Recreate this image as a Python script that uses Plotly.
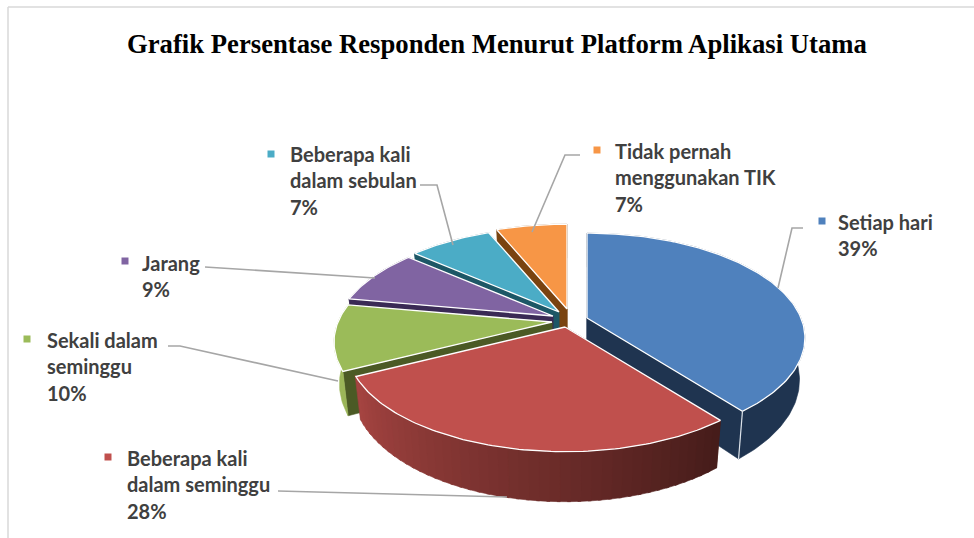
import math
import plotly.graph_objects as go

# ---- data ----
categories = ["Setiap hari", "Beberapa kali dalam seminggu", "Sekali dalam seminggu",
              "Jarang", "Beberapa kali dalam sebulan", "Tidak pernah menggunakan TIK"]
percent_labels = [39, 28, 10, 9, 7, 7]
# Sweep each wedge occupies on the drawn (tilted) pie, in percent of a turn
drawn_sweep = [39.4, 28.2, 10.2, 8.5, 7.4, 6.3]
label_lines = [["Setiap hari"], ["Beberapa kali", "dalam seminggu"], ["Sekali dalam", "seminggu"],
               ["Jarang"], ["Beberapa kali", "dalam sebulan"], ["Tidak pernah", "menggunakan TIK"]]
title = "Grafik Persentase Responden Menurut Platform Aplikasi Utama"

# ---- styles and layout ----
top_colors = ["#4F81BD", "#C0504D", "#9BBB59", "#8064A2", "#4BACC6", "#F79646"]
cut_colors = ["#1F3450", "#4A1C1A", "#4B5A25", "#3A2A55", "#1D5766", "#7A4310"]
rim_colors = ["#1F3450", None, "#9BB658", "#3A2A55", "#1D5766", "#7A4310"]
apex = [(587, 318), (565, 327), (552, 322), (553, 316), (559, 312), (567, 309)]
label_x = [838, 127, 47, 142, 290, 615]
label_y = [222, 458, 340, 263, 154, 151]
marker_xy = [(822, 221), (108, 457), (27, 339), (125, 261), (271, 154), (597, 150)]
leaders = [[(778, 288), (792, 228), (803, 228)],
           [(278, 491), (507, 497)],
           [(168, 346), (180, 346), (338, 381)],
           [(205, 267), (375, 278)],
           [(420, 185), (437, 185), (453, 245)],
           [(580, 155), (565, 155), (532, 232)]]
RX, RY, K, DEPTH = 214, 101, 0.19, 40.5
LINE_H = 26.3
TEXT = "#404040"


def rim(i, theta, bottom=False):
    t = math.radians(theta)
    u, v = math.sin(t), -math.cos(t)
    s = 1 / (1 - K * v)
    ax, ay = apex[i]
    if bottom:
        return ax + RX * u * s * 0.975, ay + RY * v * s + DEPTH * s
    return ax + RX * u * s, ay + RY * v * s


def arc(i, a, b, bottom=False):
    n = max(2, int(abs(b - a)))
    return [rim(i, a + (b - a) * j / n, bottom) for j in range(n + 1)]


def poly(fig, pts, fill, line=None, width=0.0):
    xs = [p[0] for p in pts] + [pts[0][0]]
    ys = [p[1] for p in pts] + [pts[0][1]]
    fig.add_trace(go.Scatter(x=xs, y=ys, mode="lines", fill="toself", fillcolor=fill,
                             line=dict(color=line or fill, width=width or 0.6),
                             hoverinfo="skip", showlegend=False))


def mix(c1, c2, f):
    return "rgb(%d,%d,%d)" % tuple(round(c1[k] + (c2[k] - c1[k]) * f) for k in range(3))


starts = [0.0]
for share in drawn_sweep:
    starts.append(starts[-1] + share * 3.6)

fig = go.Figure()
for i in [5, 4, 3, 2, 0, 1]:
    a, b = starts[i], starts[i + 1]
    ax, ay = apex[i]
    ap_b = (ax, ay + DEPTH)
    # radial cut faces
    poly(fig, [(ax, ay), rim(i, a), rim(i, a, True), ap_b], cut_colors[i])
    poly(fig, [(ax, ay), rim(i, b), rim(i, b, True), ap_b], cut_colors[i])
    # outer wall
    if rim_colors[i]:
        poly(fig, arc(i, a, b) + arc(i, b, a, True), rim_colors[i])
    else:
        n = 44
        for j in range(n):
            t1, t2 = a + (b - a) * j / n, a + (b - a) * (j + 1.3) / n
            poly(fig, arc(i, t1, t2) + arc(i, t2, t1, True),
                 mix((70, 28, 26), (165, 68, 65), j / (n - 1)))
    # light separators at the front corners and top surface
    poly(fig, [(ax, ay)] + arc(i, a, b), top_colors[i], "#FFFFFF", 1.3)
    if i == 0:
        p, q = rim(i, b), rim(i, b, True)
        fig.add_trace(go.Scatter(x=[p[0], q[0]], y=[p[1], q[1]], mode="lines",
                                 line=dict(color="#DDE3EA", width=1.2),
                                 hoverinfo="skip", showlegend=False))

# leader lines
for pts in leaders:
    fig.add_trace(go.Scatter(x=[p[0] for p in pts], y=[p[1] for p in pts], mode="lines",
                              line=dict(color="#A6A6A6", width=1.6),
                              hoverinfo="skip", showlegend=False))

# legend-key squares
fig.add_trace(go.Scatter(x=[m[0] for m in marker_xy], y=[m[1] for m in marker_xy], mode="markers",
                         marker=dict(symbol="square", size=7, color=top_colors, line=dict(width=0)),
                         hoverinfo="skip", showlegend=False))

# labels
annotations = []
for i, lines in enumerate(label_lines):
    rows = lines + [f"{percent_labels[i]}%"]
    for r, text in enumerate(rows):
        annotations.append(dict(x=label_x[i], y=label_y[i] + r * LINE_H, text=f"<b>{text}</b>",
                                xref="x", yref="y", xanchor="left", yanchor="middle", showarrow=False,
                                xshift=-2, font=dict(family="Lato", size=20, color=TEXT)))
annotations.append(dict(x=497, y=44, text=f"<b>{title}</b>", xref="x", yref="y", showarrow=False,
                        xanchor="center", yanchor="middle",
                        font=dict(family="Liberation Serif", size=26.7, color="#000000")))

fig.update_layout(
    width=974, height=538, margin=dict(l=0, r=0, t=0, b=0),
    paper_bgcolor="#FFFFFF", plot_bgcolor="#FFFFFF", showlegend=False,
    xaxis=dict(range=[0, 974], visible=False, fixedrange=True),
    yaxis=dict(range=[538, 0], visible=False, fixedrange=True),
    annotations=annotations,
    shapes=[dict(type="line", x0=8, y0=7, x1=974, y1=7, xref="x", yref="y",
                 line=dict(color="#D9D9D9", width=1.5)),
            dict(type="line", x0=8, y0=7, x1=8, y1=538, xref="x", yref="y",
                 line=dict(color="#D9D9D9", width=1.5))],
)
fig.write_html("out.html", config=dict(displayModeBar=False),
               post_script="document.body.style.margin='0';document.body.style.overflow='hidden';")
